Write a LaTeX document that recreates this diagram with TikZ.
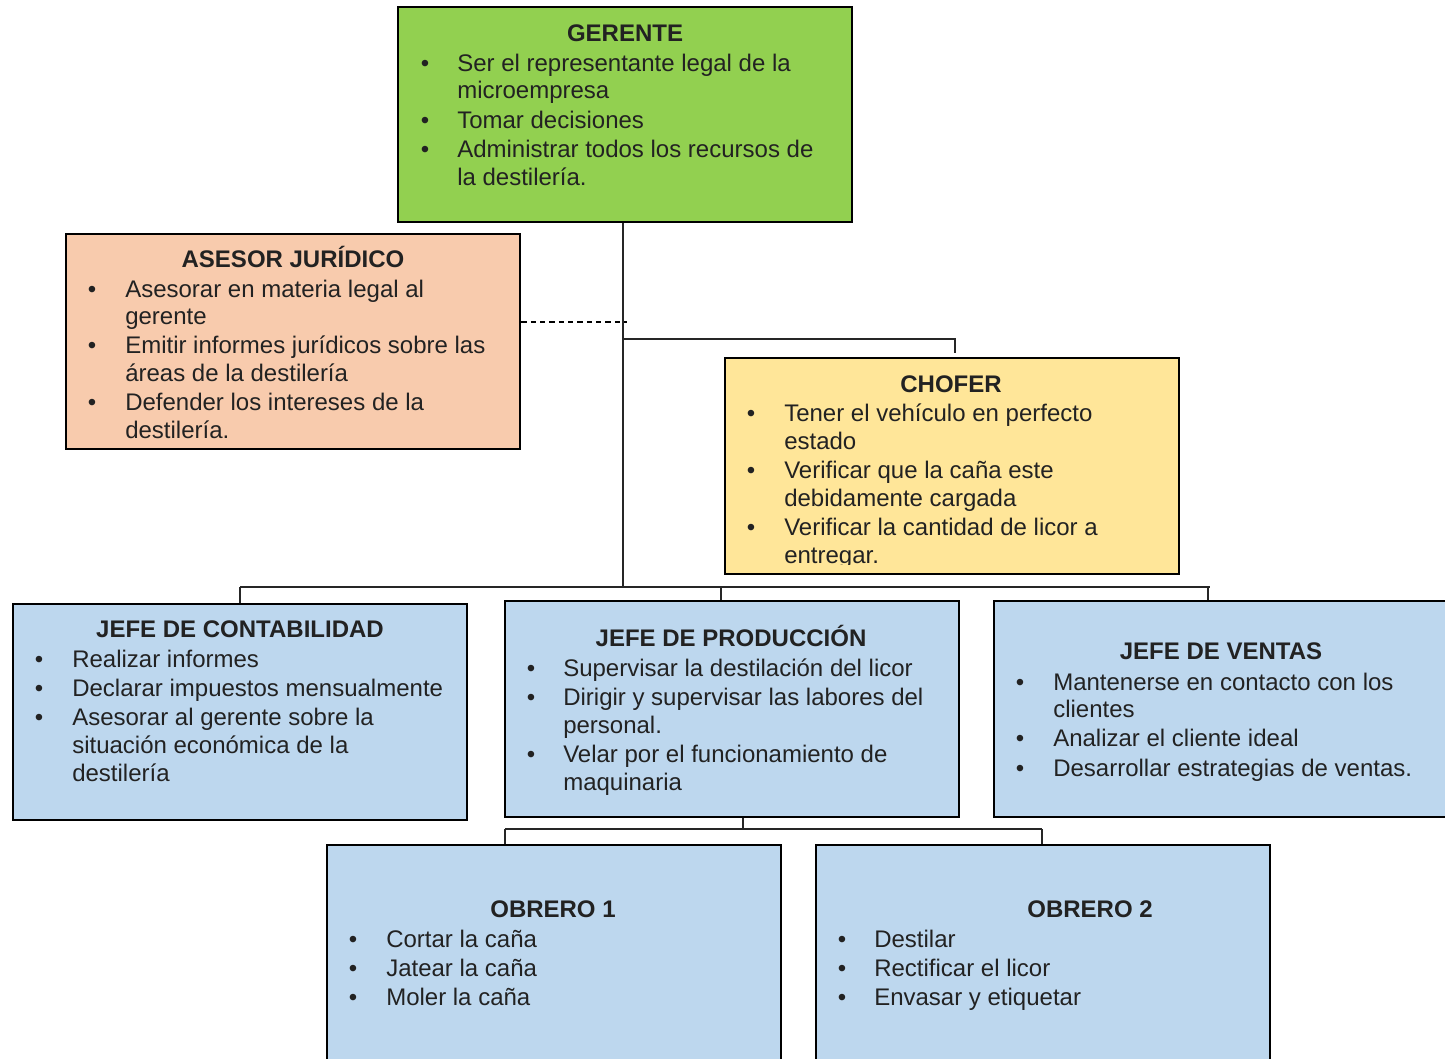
\documentclass[tikz,border=0pt]{standalone}
\usepackage{fontspec}
\setmainfont{Liberation Sans}
\usetikzlibrary{fit}
\definecolor{cgreen}{HTML}{92D050}
\definecolor{cpeach}{HTML}{F8CBAD}
\definecolor{cyellow}{HTML}{FFE699}
\definecolor{cblue}{HTML}{BDD7EE}
\definecolor{ctext}{HTML}{222222}
\begin{document}
\begin{tikzpicture}[x=0.75pt,y=-0.75pt,
  box/.style={draw=black, line width=2.2pt, inner sep=0pt},
  conn/.style={draw=black!85, line width=1.1pt},
  dconn/.style={draw=black, line width=1pt, dash pattern=on 4pt off 3pt},
  txt/.style={anchor=base west, inner sep=0pt, text=ctext, font=\fontsize{18pt}{21pt}\selectfont},
  ttl/.style={anchor=base, inner sep=0pt, text=ctext, font=\fontsize{18pt}{21pt}\selectfont\bfseries},
  bul/.style={anchor=base, inner sep=0pt, text=ctext, font=\fontsize{18pt}{21pt}\selectfont}]
\useasboundingbox (0,0) rectangle (1445,1058);
\clip (0,0) rectangle (1445,1058);

% boxes
\node[box, fill=cgreen, fit={(398,7) (852,222)}] (ger) {};
\node[box, fill=cpeach, fit={(66,234) (520,449)}] (ase) {};
\node[box, fill=cyellow, fit={(725,358) (1179,574)}] (cho) {};
\node[box, fill=cblue, fit={(13,604) (467,820)}] (con) {};
\node[box, fill=cblue, fit={(505,601) (959,817)}] (pro) {};
\node[box, fill=cblue, fit={(994,601) (1450,817)}] (ven) {};
\node[box, fill=cblue, fit={(327,845) (781,1075)}] (ob1) {};
\node[box, fill=cblue, fit={(816,845) (1270,1075)}] (ob2) {};

% junctions
\coordinate (jA) at (623,339);
\coordinate (jB) at (623,587);
\coordinate (jC) at (955,339);
\coordinate (jD) at (627,322);
\coordinate (hL) at (240,587);
\coordinate (hM) at (721,587);
\coordinate (hR) at (1210,587);
\coordinate (hV) at (1208,587);
\coordinate (pB) at (743,829);
\coordinate (pL) at (505,829);
\coordinate (pR) at (1042,829);

% connectors
\draw[conn] (ger.south -| jA) -- (jB);
\draw[dconn] (ase.east |- jD) -- (jD);
\draw[conn] (jA) -- (jC) -- ([yshift=3pt]jC |- cho.north);
\draw[conn] (hL) -- (hR);
\draw[conn] (hL) -- (hL |- con.north);
\draw[conn] (hM) -- (hM |- pro.north);
\draw[conn] (hV) -- (hV |- ven.north);
\draw[conn] (pro.south -| pB) -- (pB);
\draw[conn] (pL) -- (pR);
\draw[conn] (pL) -- (pL |- ob1.north);
\draw[conn] (pR) -- (pR |- ob2.north);

% GERENTE
\node[ttl] (gt) at (625,41) {GERENTE};
\node[bul] (gb1) at (425,71) {•};
\node[txt] (g1) at (457,71) {Ser el representante legal de la};
\node[txt] (g2) at (457,98) {microempresa};
\node[bul] (gb2) at (425,128) {•};
\node[txt] (g3) at (457,128) {Tomar decisiones};
\node[bul] (gb3) at (425,157) {•};
\node[txt] (g4) at (457,157) {Administrar todos los recursos de};
\node[txt] (g5) at (457,185) {la destilería.};

% ASESOR
\node[ttl] (at) at (293,267) {ASESOR JURÍDICO};
\node[bul] (ab1) at (92,297) {•};
\node[txt] (a1) at (125,297) {Asesorar en materia legal al};
\node[txt] (a2) at (125,324) {gerente};
\node[bul] (ab2) at (92,353) {•};
\node[txt] (a3) at (125,353) {Emitir informes jurídicos sobre las};
\node[txt] (a4) at (125,381) {áreas de la destilería};
\node[bul] (ab3) at (92,410) {•};
\node[txt] (a5) at (125,410) {Defender los intereses de la};
\node[txt] (a6) at (125,438) {destilería.};

% CHOFER
\begin{scope}
\clip (725,358) rectangle (1179,564);
\node[ttl] (ct) at (951,392) {CHOFER};
\node[bul] (cb1) at (751,421) {•};
\node[txt] (c1) at (784,421) {Tener el vehículo en perfecto};
\node[txt] (c2) at (784,449) {estado};
\node[bul] (cb2) at (751,478) {•};
\node[txt] (c3) at (784,478) {Verificar que la caña este};
\node[txt] (c4) at (784,506) {debidamente cargada};
\node[bul] (cb3) at (751,535) {•};
\node[txt] (c5) at (784,535) {Verificar la cantidad de licor a};
\node[txt] (c6) at (784,563) {entregar.};
\end{scope}

% CONTABILIDAD
\node[ttl] (kt) at (240,637) {JEFE DE CONTABILIDAD};
\node[bul] (kb1) at (39,667) {•};
\node[txt] (k1) at (72,667) {Realizar informes};
\node[bul] (kb2) at (39,696) {•};
\node[txt] (k2) at (72,696) {Declarar impuestos mensualmente};
\node[bul] (kb3) at (39,725) {•};
\node[txt] (k3) at (72,725) {Asesorar al gerente sobre la};
\node[txt] (k4) at (72,753) {situación económica de la};
\node[txt] (k5) at (72,781) {destilería};

% PRODUCCION
\node[ttl] (pt) at (731,646) {JEFE DE PRODUCCIÓN};
\node[bul] (pb1) at (531,676) {•};
\node[txt] (p1) at (563,676) {Supervisar la destilación del licor};
\node[bul] (pb2) at (531,705) {•};
\node[txt] (p2) at (563,705) {Dirigir y supervisar las labores del};
\node[txt] (p3) at (563,733) {personal.};
\node[bul] (pb3) at (531,762) {•};
\node[txt] (p4) at (563,762) {Velar por el funcionamiento de};
\node[txt] (p5) at (563,790) {maquinaria};

% VENTAS
\node[ttl] (vt) at (1221,659) {JEFE DE VENTAS};
\node[bul] (vb1) at (1020,690) {•};
\node[txt] (v1) at (1053,690) {Mantenerse en contacto con los};
\node[txt] (v2) at (1053,717) {clientes};
\node[bul] (vb2) at (1020,746) {•};
\node[txt] (v3) at (1053,746) {Analizar el cliente ideal};
\node[bul] (vb3) at (1020,776) {•};
\node[txt] (v4) at (1053,776) {Desarrollar estrategias de ventas.};

% OBRERO 1
\node[ttl] (o1t) at (553,917) {OBRERO 1};
\node[bul] (ob1a) at (353,947) {•};
\node[txt] (o11) at (386,947) {Cortar la caña};
\node[bul] (ob1b) at (353,976) {•};
\node[txt] (o12) at (386,976) {Jatear la caña};
\node[bul] (ob1c) at (353,1005) {•};
\node[txt] (o13) at (386,1005) {Moler la caña};

% OBRERO 2
\node[ttl] (o2t) at (1090,917) {OBRERO 2};
\node[bul] (ob2a) at (842,947) {•};
\node[txt] (o21) at (874,947) {Destilar};
\node[bul] (ob2b) at (842,976) {•};
\node[txt] (o22) at (874,976) {Rectificar el licor};
\node[bul] (ob2c) at (842,1005) {•};
\node[txt] (o23) at (874,1005) {Envasar y etiquetar};
\end{tikzpicture}
\end{document}
